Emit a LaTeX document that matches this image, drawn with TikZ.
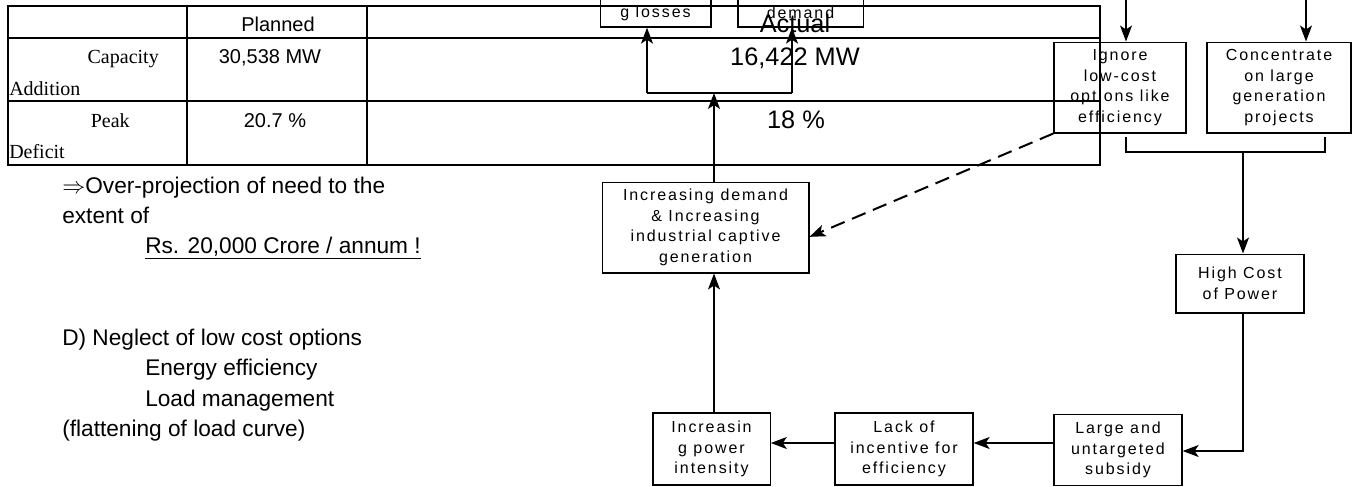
\documentclass[tikz,border=0pt]{standalone}
\usepackage{fontspec}
\setmainfont{Liberation Sans}
\newfontfamily\serifcell{Liberation Serif}
\newfontfamily\boxfont[LetterSpace=12]{Liberation Sans}
\usetikzlibrary{arrows.meta}

\tikzset{
  flowbox/.style={draw, line width=1pt, align=center, inner sep=0pt,
    font=\boxfont\fontsize{12}{15.5}\selectfont},
  flowline/.style={line width=1.1pt},
  flowarrow/.style={line width=1.1pt, -{Stealth[length=12pt,width=9pt,inset=3pt]}},
  tableline/.style={line width=1.6pt},
  cell/.style={anchor=base, inner sep=0pt, font=\fontsize{15}{18}\selectfont},
  bigcell/.style={anchor=base, inner sep=0pt, font=\fontsize{19}{22}\selectfont},
  rowhead/.style={inner sep=0pt, font=\serifcell\fontsize{15}{18}\selectfont},
  note/.style={anchor=base west, inner sep=0pt, font=\fontsize{17}{20}\selectfont},
}

\begin{document}
\begin{tikzpicture}[x=0.75pt, y=-0.75pt]

    % Fix the frame of the slide
    \useasboundingbox (0,0) rectangle (1352,486);
    \clip (0,0) rectangle (1352,486);

    % Draw the table
    \draw[tableline] (8,6) rectangle (1100,165);
    \draw[tableline] (8,38) -- (1100,38);
    \draw[tableline] (8,101) -- (1100,101);
    \draw[tableline] (187,6) -- (187,165);
    \draw[tableline] (367,6) -- (367,165);

    % Table header
    \node[cell] (planned) at (278,31) {Planned};
    \node[bigcell] (actual) at (795,32) {Actual};

    % Row: capacity addition
    \node[rowhead, anchor=base east] (capA) at (159,63) {Capacity};
    \node[rowhead, anchor=base west] (capB) at (9,95) {Addition};
    \node[cell] (capPlan) at (270,63) {30,538 MW};
    \node[bigcell] (capAct) at (795,65) {16,422 MW};

    % Row: peak deficit
    \node[rowhead, anchor=base east] (peakA) at (130,127) {Peak};
    \node[rowhead, anchor=base west] (peakB) at (9,158) {Deficit};
    \node[cell] (peakPlan) at (275,127) {20.7 \%};
    \node[bigcell] (peakAct) at (796,128) {18 \%};

    % Notes on the left
    \node[note] (over) at (62,193) {$\Rightarrow$Over-projection of need to the};
    \node[note] (extent) at (62,223) {extent of};
    \node[note] (rs) at (145,253) {\underline{Rs. 20,000 Crore / annum !}};
    \node[note] (neglect) at (62,345) {D) Neglect of low cost options};
    \node[note] (energy) at (145,375) {Energy efficiency};
    \node[note] (load) at (145,406) {Load management};
    \node[note] (flat) at (62,436) {(flattening of load curve)};

    % Boxes of the cycle
    \node[flowbox, minimum width=83pt, minimum height=21pt] (losses) at (655.5,13) {g losses};
    \node[flowbox, minimum width=94pt, minimum height=21pt] (topdemand) at (800.5,13) {demand};
    \node[flowbox, minimum width=99pt, minimum height=68pt] (ignore) at (1120,87.5)
        {Ignore\\ low-cost\\ options like\\ efficiency};
    \node[flowbox, minimum width=108pt, minimum height=68pt] (concentrate) at (1279,87.5)
        {Concentrate\\ on large\\ generation\\ projects};
    \node[flowbox, minimum width=96pt, minimum height=44pt] (highcost) at (1240,283.5)
        {High Cost\\ of Power};
    \node[flowbox, minimum width=96pt, minimum height=53pt] (subsidy) at (1118,450)
        {Large and\\ untargeted\\ subsidy};
    \node[flowbox, minimum width=103.5pt, minimum height=54pt] (incentive) at (904,449)
        {Lack of\\ incentive for\\ efficiency};
    \node[flowbox, minimum width=88pt, minimum height=54pt] (intensity) at (711.5,449)
        {Increasin\\ g power\\ intensity};
    \node[flowbox, minimum width=155pt, minimum height=68pt] (growth) at (705.5,227.5)
        {Increasing demand\\ \& Increasing\\ industrial captive\\ generation};

    % Junction points of the connectors
    \coordinate (fork) at (714,93);
    \coordinate (forkL) at (647,93);
    \coordinate (forkR) at (792,93);
    \coordinate (ignoreIn) at (1126,-10);
    \coordinate (concIn) at (1306,-10);
    \coordinate (bracketL) at (1126,152);
    \coordinate (bracketR) at (1325,152);
    \coordinate (bracketM) at (1243,152);
    \coordinate (costTurn) at (1243,451);
    \coordinate (chain) at (0,443);

    % Arrows coming in from above
    \draw[flowarrow] (ignoreIn) -- (ignoreIn |- ignore.north);
    \draw[flowarrow] (concIn) -- (concIn |- concentrate.north);

    % Bracket joining the two top boxes
    \draw[flowline] (1126,137) -- (bracketL) -- (bracketR) -- (1325,137);
    \draw[flowarrow] (bracketM) -- (bracketM |- highcost.north);

    % Down and round to the bottom row
    \draw[flowarrow] (highcost.south -| costTurn) -- (costTurn) -- (costTurn -| subsidy.east);
    \draw[flowarrow] (subsidy.west |- chain) -- (incentive.east |- chain);
    \draw[flowarrow] (incentive.west |- chain) -- (intensity.east |- chain);

    % Up to the growing demand and to the top
    \draw[flowarrow] (intensity.north -| fork) -- (growth.south -| fork);
    \draw[flowarrow] (growth.north -| fork) -- (fork);
    \draw[flowline] (forkL) -- (forkR);
    \draw[flowarrow] (forkL) -- (forkL |- losses.south);
    \draw[flowarrow] (forkR) -- (forkR |- topdemand.south);

    % Dashed link from ignoring efficiency
    \draw[flowarrow, line width=1.5pt, dash pattern=on 11pt off 6pt] (ignore.south west) -- ([yshift=-7pt]growth.east);

\end{tikzpicture}
\end{document}
